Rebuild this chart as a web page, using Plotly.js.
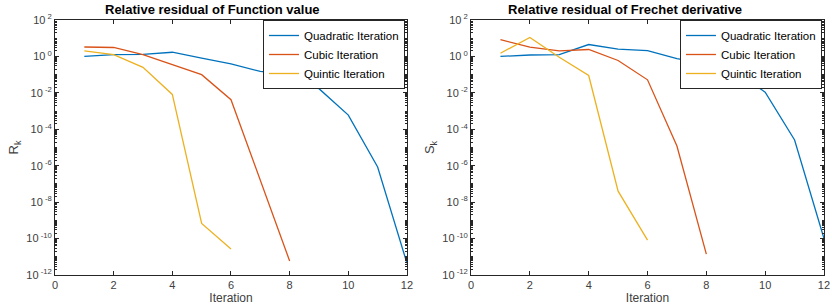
<!DOCTYPE html>
<html><head><meta charset="utf-8">
<script src="https://cdn.plot.ly/plotly-3.0.1.min.js"></script>
<style>html,body{margin:0;padding:0;background:#fff}#chart{width:832px;height:305px}</style>
</head><body><div id="chart"></div>
<script>
// Iteration numbers
const iterQuad = [1,2,3,4,5,6,7,8,9,10,11,12];
const iterCubic = [1,2,3,4,5,6,7,8];
const iterQuintic = [1,2,3,4,5,6];

// Left: relative residual of function value R_k
const R_quad = [1.0, 1.27, 1.3, 1.7, 0.8, 0.39, 0.15, 0.1, 0.017, 6e-4, 8.5e-7, 4.4e-12];
const R_cubic = [3.3, 3.1, 1.27, 0.36, 0.1, 4.2e-3, 1.6e-7, 5.9e-12];
const R_quintic = [2.0, 1.27, 0.25, 8.2e-3, 6.8e-10, 2.7e-11];

// Right: relative residual of Frechet derivative S_k
const S_quad = [1.0, 1.2, 1.27, 4.5, 2.5, 2.1, 0.76, 0.4, 0.13, 0.011, 2.6e-5, 1.0e-10];
const S_cubic = [8.3, 3.2, 2.0, 2.4, 0.6, 0.052, 1.2e-5, 1.4e-11];
const S_quintic = [1.5, 11, 0.9, 0.09, 4e-8, 8.3e-11];

// Tick labels
const yTickVals = [1e-12, 1e-10, 1e-8, 1e-6, 1e-4, 1e-2, 1, 1e2];
const yTickText = ['10<sup> -12</sup>','10<sup> -10</sup>','10<sup> -8</sup>','10<sup> -6</sup>','10<sup> -4</sup>','10<sup> -2</sup>','10<sup> 0</sup>','10<sup> 2</sup>'];
const xTickVals = [0,2,4,6,8,10,12];

const names = ['Quadratic Iteration','Cubic Iteration','Quintic Iteration'];
const colors = ['#0072BD','#D95319','#EDB120'];
const titles = ['Relative residual of Function value','Relative residual of Frechet derivative'];

const FONT = 'Liberation Sans, Arial, sans-serif';

function tr(x, y, i, ax, leg) {
  return {x: x, y: y, type: 'scatter', mode: 'lines', name: names[i],
    line: {color: colors[i], width: 1.3}, xaxis: ax[0], yaxis: ax[1], legend: leg};
}
const data = [
  tr(iterQuad, R_quad, 0, ['x','y'], 'legend'),
  tr(iterCubic, R_cubic, 1, ['x','y'], 'legend'),
  tr(iterQuintic, R_quintic, 2, ['x','y'], 'legend'),
  tr(iterQuad, S_quad, 0, ['x2','y2'], 'legend2'),
  tr(iterCubic, S_cubic, 1, ['x2','y2'], 'legend2'),
  tr(iterQuintic, S_quintic, 2, ['x2','y2'], 'legend2')
];

const tickFont = {family: FONT, size: 11, color: '#404040'};
function xax(dom, anchor) {
  return {domain: dom, anchor: anchor, range: [0,12], tickmode: 'array', tickvals: xTickVals,
    ticks: 'inside', ticklen: 4, tickcolor: '#262626', showline: true, linecolor: '#262626',
    linewidth: 1, mirror: 'ticks', showgrid: false, zeroline: false, tickfont: tickFont,
    title: {text: 'Iteration', font: {family: FONT, size: 12, color: '#404040'}, standoff: 2}};
}
function yax(anchor, t) {
  return {anchor: anchor, type: 'log', range: [-12, 2], tickmode: 'array',
    tickvals: yTickVals, ticktext: yTickText,
    ticks: 'inside', ticklen: 4, tickcolor: '#262626', showline: true, linecolor: '#262626',
    linewidth: 1, mirror: 'ticks', showgrid: false, zeroline: false, tickfont: tickFont,
    minor: {dtick: 'D1', ticks: 'inside', ticklen: 2, tickcolor: '#262626', showgrid: false},
    title: {text: t, font: {family: FONT, size: 13, color: '#404040'}, standoff: 4}};
}
function leg(x) {
  return {x: x, y: 1.0, xanchor: 'left', yanchor: 'top', bgcolor: '#fff',
    bordercolor: '#262626', borderwidth: 1,
    font: {family: FONT, size: 11.5, color: '#000'},
    tracegroupgap: 0, itemwidth: 30};
}

const layout = {
  width: 832, height: 305, paper_bgcolor: '#fff', plot_bgcolor: '#fff',
  margin: {l: 55, r: 8, t: 20, b: 30},
  showlegend: true,
  xaxis: xax([0, 0.4577], 'y'),
  yaxis: yax('x', 'R<sub>k</sub>'),
  xaxis2: xax([0.541, 1], 'y2'),
  yaxis2: yax('x2', 'S<sub>k</sub>'),
  legend: leg(0.2705),
  legend2: leg(0.8127),
  annotations: [
    {text: '<b>' + titles[0] + '</b>', xref: 'paper', yref: 'paper', x: 0.2042, xanchor: 'center', y: 1, yanchor: 'bottom', yshift: 1, showarrow: false,
      font: {family: FONT, size: 13, color: '#000'}},
    {text: '<b>' + titles[1] + '</b>', xref: 'paper', yref: 'paper', x: 0.7412, xanchor: 'center', y: 1, yanchor: 'bottom', yshift: 1, showarrow: false,
      font: {family: FONT, size: 13, color: '#000'}}
  ]
};
Plotly.newPlot('chart', data, layout, {staticPlot: true, displayModeBar: false});
</script></body></html>
